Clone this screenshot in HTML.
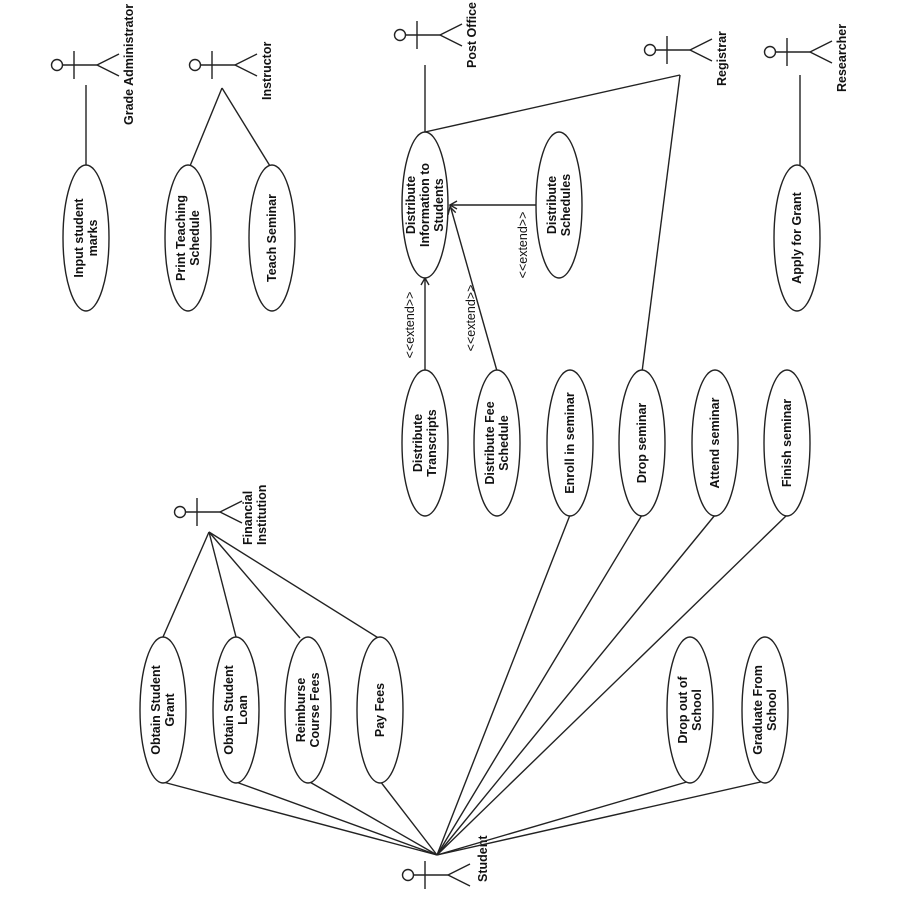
<!DOCTYPE html>
<html><head><meta charset="utf-8"><style>
body{margin:0;background:#fff}
svg{display:block}
text{font-family:"Liberation Sans",sans-serif;font-weight:bold;font-size:12.5px;fill:#111}
.n{font-weight:normal}
</style></head><body>
<svg width="900" height="900" viewBox="0 0 900 900" stroke="#222" stroke-width="1.4" fill="none">
<g id="actors"></g>
<g id="lines"></g>
<g id="uc"></g>
</svg>
<script>
const NS='http://www.w3.org/2000/svg';
function mk(t,a,p){const e=document.createElementNS(NS,t);for(const k in a)e.setAttribute(k,a[k]);p.appendChild(e);return e;}
const ga=document.getElementById('actors'),gl=document.getElementById('lines'),gu=document.getElementById('uc');
const actorNames=['Grade Administrator','Instructor','Post Office','Registrar','Researcher','Financial Institution','Student'];
const actorX=[57,195,400,650,770,180,408];
const actorY=[65,65,35,50,52,512,875];
const labelBottom=[125,100,68,86,92,545,882];
actorNames.forEach((n,i)=>{
  const x=actorX[i],y=actorY[i];
  const g=mk('g',{},ga);
  
  
  mk('circle',{cx:x,cy:y,r:5.5},g);
  mk('line',{x1:x+5.5,y1:y,x2:x+40,y2:y},g);
  mk('line',{x1:x+17,y1:y-14,x2:x+17,y2:y+14},g);
  mk('line',{x1:x+40,y1:y,x2:x+62,y2:y-11},g);
  mk('line',{x1:x+40,y1:y,x2:x+62,y2:y+11},g);
  const parts=n==='Financial Institution'?['Financial','Institution']:[n];
  parts.forEach((p,j)=>{
    const tx=x+76+j*14-(parts.length-1)*4+(n==='Student'?3:0), ty=labelBottom[i];
    const t=mk('text',{x:0,y:0,transform:`translate(${tx},${ty}) rotate(-90)`,'text-anchor':'start',stroke:'none'},g);
    t.textContent=p;
  });
});
const ucNames=[['Input student','marks'],['Print Teaching','Schedule'],['Teach Seminar'],['Distribute','Information to','Students'],['Distribute','Schedules'],['Apply for Grant'],
['Distribute','Transcripts'],['Distribute Fee','Schedule'],['Enroll in seminar'],['Drop seminar'],['Attend seminar'],['Finish seminar'],
['Obtain Student','Grant'],['Obtain Student','Loan'],['Reimburse','Course Fees'],['Pay Fees'],['Drop out of','School'],['Graduate From','School']];
const ucX=[86,188,272,425,559,797,425,497,570,642,715,787,163,236,308,380,690,765];
const ucY=[238,238,238,205,205,238,443,443,443,443,443,443,710,710,710,710,710,710];
ucNames.forEach((n,i)=>{
  const g=mk('g',{},gu);
  
  
  mk('ellipse',{cx:ucX[i],cy:ucY[i],rx:23,ry:73,fill:'#fff'},g);
  n.forEach((p,j)=>{
    const tx=ucX[i]+4+(j-(n.length-1)/2)*14;
    const t=mk('text',{x:0,y:0,transform:`translate(${tx},${ucY[i]}) rotate(-90)`,'text-anchor':'middle',stroke:'none'},g);
    t.textContent=p;
  });
});
const links=[[86,85,86,166],[222,88,190,166],[222,88,270,166],[425,65,425,132],[680,75,425,132],[680,75,642,372],[800,75,800,166],
[209,532,163,637],[209,532,236,637],[209,532,300,638],[209,532,380,639],
[437,855,163,782],[437,855,236,782],[437,855,308,781],[437,855,380,781],[437,855,690,781],[437,855,765,781],
[437,855,570,515],[437,855,642,515],[437,855,715,515],[437,855,787,515],
[425,370,425,278],[497,371,450,205],[537,205,450,205]];
links.forEach(l=>{
  const e=mk('line',{x1:l[0],y1:l[1],x2:l[2],y2:l[3]},gl);
  
  
});
[[425,278,0,-1],[450,205,-1,0],[450,207,-0.27,-0.96]].forEach(a=>{
  const [x,y,dx,dy]=a,px=-dy,py=dx;
  const p=mk('polyline',{points:`${x-dx*7+px*4},${y-dy*7+py*4} ${x},${y} ${x-dx*7-px*4},${y-dy*7-py*4}`},gl);
  
  
});
[[414,325],[475,318],[527,245]].forEach(p=>{
  const t=mk('text',{x:0,y:0,class:'n',transform:`translate(${p[0]},${p[1]}) rotate(-90)`,'text-anchor':'middle',stroke:'none'},gl);
  
  
  t.textContent='<<extend>>';
});
</script>
</body></html>
